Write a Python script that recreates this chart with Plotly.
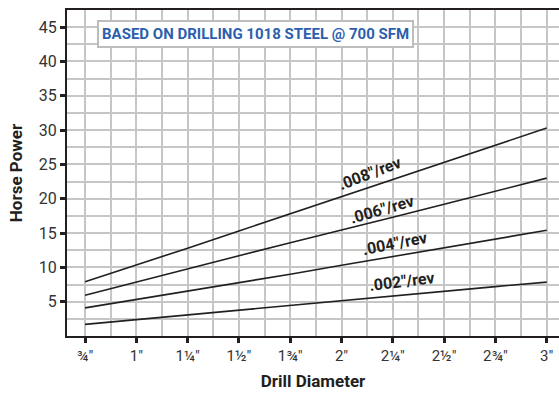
import plotly.graph_objects as go

diam = [0.75, 1.0, 1.25, 1.5, 1.75, 2.0, 2.25, 2.5, 2.75, 3.0]
feeds = ['.008"/rev', '.006"/rev', '.004"/rev', '.002"/rev']
hp_008 = [7.9, 10.3, 12.8, 15.3, 17.8, 20.3, 22.8, 25.3, 27.8, 30.3]
hp_006 = [5.95, 7.9, 9.8, 11.7, 13.6, 15.4, 17.3, 19.2, 21.1, 23.0]
hp_004 = [4.1, 5.3, 6.5, 7.8, 9.0, 10.3, 11.6, 12.8, 14.1, 15.4]
hp_002 = [1.7, 2.4, 3.1, 3.8, 4.5, 5.2, 5.9, 6.5, 7.2, 7.85]
tick_vals = [0.75, 1.0, 1.25, 1.5, 1.75, 2.0, 2.25, 2.5, 2.75, 3.0]
tick_text = ['¾"', '1"', '1¼"', '1½"', '1¾"', '2"', '2¼"', '2½"', '2¾"', '3"']
y_ticks = [5, 10, 15, 20, 25, 30, 35, 40, 45]

# label positions (x, y, angle)
label_pos = [(2.137, 23.7, -21), (2.196, 18.5, -16), (2.26, 13.5, -11), (2.294, 8.0, -7)]

fig = go.Figure()
for vals in [hp_008, hp_006, hp_004, hp_002]:
    fig.add_trace(go.Scatter(x=diam, y=vals, mode='lines',
                             line=dict(color='#231f20', width=1.6), showlegend=False,
                             hoverinfo='skip'))

for txt, (x, y, a) in zip(feeds, label_pos):
    fig.add_annotation(x=x, y=y, text=txt, showarrow=False, textangle=a,
                       font=dict(family='Roboto', size=16, color='#231f20', weight='bold'))

fig.add_annotation(xref='paper', yref='paper', x=0.06, y=0.925, xanchor='left', yanchor='middle',
                   text='BASED ON DRILLING 1018 STEEL @ 700 SFM', showarrow=False,
                   font=dict(family='Roboto', size=15, color='#2b5fad', weight='bold'),
                   bgcolor='white', bordercolor='#bdbdbd', borderwidth=2, borderpad=3)

grid_c = '#c6c6c6'
fig.update_layout(
    width=559, height=395,
    margin=dict(l=67, r=0, t=10, b=59, autoexpand=False),
    plot_bgcolor='white', paper_bgcolor='white',
    font=dict(family='Roboto', color='#333333'),
    xaxis=dict(range=[0.662, 3.06], tickvals=tick_vals, ticktext=tick_text, automargin=False,
               showgrid=True, gridcolor=grid_c, gridwidth=1.5,
               minor=dict(dtick=0.125, tick0=0.75, showgrid=True, gridcolor=grid_c, gridwidth=1.5),
               showline=True, linecolor='#231f20', linewidth=2, mirror=True,
               ticks='outside', ticklen=5, tickwidth=2.5, tickcolor='#231f20',
               tickfont=dict(size=15, color='#333333'),
               title=dict(text='Drill Diameter', font=dict(size=17, color='#231f20', weight='bold'), standoff=11),
               zeroline=False),
    yaxis=dict(range=[0, 47.5], tickvals=y_ticks, automargin=False,
               showgrid=True, gridcolor=grid_c, gridwidth=1.5,
               minor=dict(dtick=2.5, tick0=0, showgrid=True, gridcolor=grid_c, gridwidth=1.5),
               showline=True, linecolor='#231f20', linewidth=2,
               ticks='outside', ticklen=5, tickwidth=2.5, tickcolor='#231f20',
               tickfont=dict(size=16, color='#333333'),
               title=dict(text='Horse Power', font=dict(size=17, color='#231f20', weight='bold'), standoff=12),
               zeroline=False),
)

fig.write_html('out.html', config={'displayModeBar': False},
               post_script="document.body.style.margin='0px';")
